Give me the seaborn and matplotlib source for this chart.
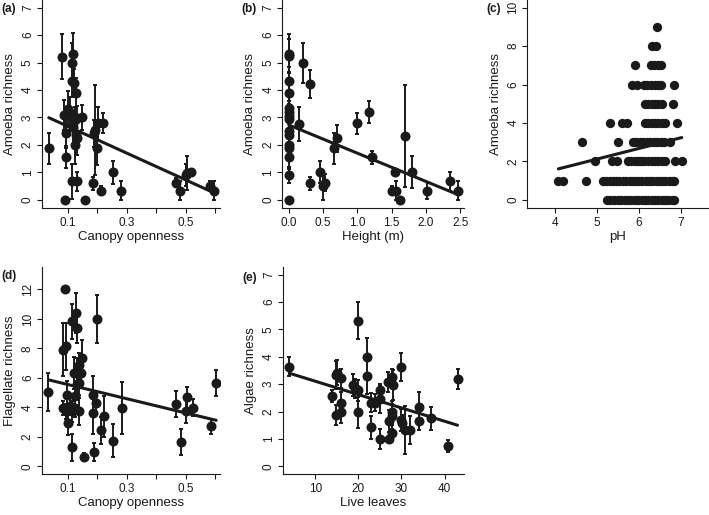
import numpy as np
import pandas as pd
import matplotlib
matplotlib.use("Agg")
import matplotlib.pyplot as plt
import seaborn as sns

# (a) amoeba richness vs canopy openness, site means +- se
canopy_a = [0.036, 0.080, 0.119, 0.116, 0.113, 0.121, 0.127, 0.086, 0.100, 0.107,
            0.125, 0.133, 0.147, 0.094, 0.118, 0.127, 0.131, 0.126, 0.093, 0.113,
            0.133, 0.091, 0.158, 0.186, 0.189, 0.192, 0.199, 0.202, 0.221, 0.213,
            0.252, 0.282, 0.467, 0.479, 0.500, 0.503, 0.518, 0.582, 0.597]
amoeba_a = [1.88, 5.21, 5.33, 5.00, 4.33, 4.25, 3.88, 3.10, 3.30, 3.15,
            2.90, 2.97, 3.00, 2.45, 2.65, 2.36, 2.24, 2.00, 1.56, 0.67,
            0.67, 0.00, 0.00, 0.60, 2.42, 2.55, 1.88, 2.79, 2.81, 0.34,
            1.00, 0.34, 0.63, 0.34, 0.91, 0.97, 1.00, 0.51, 0.34]
amoeba_a_se = [0.57, 0.82, 0.75, 0.70, 0.60, 0.50, 0.55, 0.55, 0.65, 0.60,
               0.50, 0.45, 0.45, 0.55, 0.60, 0.55, 0.60, 0.70, 0.40, 0.65,
               0.35, 0.00, 0.00, 0.25, 0.50, 1.65, 0.60, 0.60, 0.37, 0.15,
               0.42, 0.33, 0.15, 0.33, 0.40, 0.62, 0.10, 0.17, 0.33]
fit_a = (3.17, -4.89)

# (b) amoeba richness vs height
height_b = [0, 0, 0, 0, 0, 0, 0, 0, 0, 0, 0, 0, 0, 0, 0,
            0.155, 0.204, 0.306, 0.306, 0.46, 0.495, 0.53, 0.655, 0.70, 1.00,
            1.17, 1.21, 1.50, 1.55, 1.57, 1.62, 1.70, 1.80, 2.02, 2.35, 2.46]
amoeba_b = [5.33, 5.25, 4.33, 3.88, 3.33, 3.20, 3.05, 2.95, 2.50, 2.36, 2.00, 1.90, 1.56, 0.90, 0.00,
            2.76, 4.99, 4.22, 0.60, 1.00, 0.49, 0.63, 1.88, 2.24, 2.79,
            3.21, 1.55, 0.34, 1.00, 0.34, 0.00, 2.33, 1.00, 0.34, 0.67, 0.34]
amoeba_b_se = [0.72, 0.60, 0.50, 0.45, 0.50, 0.40, 0.45, 0.50, 0.40, 0.50, 0.40, 0.50, 0.45, 0.30, 0.00,
               0.62, 0.72, 0.52, 0.25, 0.40, 0.50, 0.30, 0.57, 0.49, 0.38,
               0.40, 0.24, 0.15, 0.10, 0.33, 0.00, 1.86, 0.58, 0.30, 0.33, 0.33]
fit_b = (2.73, -1.03)

# (c) amoeba richness vs pH, one row of samples per richness value
ph_rich0 = [5.23, 5.32, 5.41, 5.50, 5.58, 5.66, 5.74, 5.82, 5.90, 5.98, 6.06,
            6.14, 6.22, 6.30, 6.38, 6.46, 6.54, 6.62, 6.70, 6.78, 6.84]
ph_rich1 = [4.08, 4.18, 4.74, 5.15, 5.22, 5.30, 5.38, 5.45, 5.53, 5.61, 5.70, 5.78, 5.85,
            5.93, 6.00, 6.08, 6.16, 6.24, 6.31, 6.40, 6.48, 6.55, 6.63, 6.71, 6.78, 6.84]
ph_rich2 = [4.95, 5.35, 5.48, 5.73, 5.81, 5.90, 5.98, 6.05, 6.13, 6.22, 6.30,
            6.38, 6.46, 6.55, 6.63, 6.86, 7.02]
ph_rich3 = [4.64, 5.49, 5.85, 5.93, 6.02, 6.10, 6.18, 6.26, 6.35, 6.43, 6.52, 6.60, 6.73]
ph_rich4 = [5.31, 5.59, 5.71, 6.14, 6.22, 6.30, 6.38, 6.46, 6.55, 6.63, 6.90]
ph_rich5 = [6.14, 6.22, 6.30, 6.38, 6.46, 6.55, 6.82]
ph_rich6 = [5.83, 5.95, 6.12, 6.20, 6.28, 6.37, 6.45, 6.53, 6.84]
ph_rich7 = [5.91, 6.28, 6.36, 6.45, 6.53]
ph_rich8 = [6.31, 6.40]
ph_rich9 = [6.43]
fit_c = (-0.653, 0.555)

# (d) flagellate richness vs canopy openness
canopy_d = [0.035, 0.091, 0.113, 0.127, 0.130, 0.200, 0.085, 0.094, 0.147, 0.121,
            0.130, 0.145, 0.137, 0.139, 0.131, 0.099, 0.126, 0.085, 0.096, 0.107,
            0.116, 0.126, 0.138, 0.102, 0.186, 0.197, 0.186, 0.222, 0.214, 0.113,
            0.156, 0.190, 0.253, 0.284, 0.468, 0.485, 0.504, 0.502, 0.525, 0.586, 0.603]
flag_d = [5.02, 12.04, 9.84, 10.40, 9.39, 10.00, 7.92, 8.14, 7.35, 6.33,
          6.45, 6.33, 6.90, 5.66, 5.59, 4.86, 4.75, 3.96, 3.73, 4.07,
          3.73, 3.96, 3.73, 2.94, 4.86, 4.30, 3.62, 3.39, 2.44, 1.29,
          0.63, 0.97, 1.74, 3.96, 4.23, 1.65, 4.68, 3.73, 3.98, 2.71, 5.66]
flag_d_se = [1.30, 0.00, 1.20, 1.35, 1.00, 1.65, 1.80, 1.60, 1.20, 1.10,
             0.90, 0.60, 0.80, 0.80, 0.70, 0.90, 0.90, 0.50, 0.50, 0.60,
             0.70, 0.60, 0.90, 0.80, 1.25, 0.60, 1.40, 1.40, 0.90, 0.90,
             0.30, 0.60, 1.10, 1.75, 0.90, 0.90, 0.70, 0.80, 0.60, 0.50, 0.90]
fit_d = (6.035, -4.83)

# (e) algae richness vs live leaves
leaves_e = [4.0, 13.9, 14.9, 15.1, 16.0, 14.9, 16.0, 16.0, 18.7, 19.3,
            19.9, 19.9, 19.9, 22.0, 22.0, 22.9, 22.9, 23.9, 24.9, 24.9,
            24.9, 26.8, 27.8, 28.0, 27.8, 27.8, 27.0, 27.0, 27.8, 29.9,
            29.9, 30.2, 30.9, 31.9, 34.0, 34.0, 36.9, 40.9, 43.0]
algae_e = [3.64, 2.57, 3.34, 3.42, 3.22, 1.88, 1.97, 2.33, 2.97, 2.85,
           2.77, 1.97, 5.32, 3.98, 3.30, 2.33, 1.43, 2.33, 2.45, 2.77,
           1.00, 3.09, 3.25, 2.97, 1.97, 1.82, 1.64, 1.00, 1.21, 3.62,
           1.70, 1.58, 1.33, 1.33, 2.16, 1.64, 1.76, 0.76, 3.19]
algae_e_se = [0.35, 0.23, 0.50, 0.45, 0.35, 0.37, 0.38, 0.38, 0.40, 0.35,
              0.40, 0.58, 0.67, 0.70, 0.67, 0.35, 0.42, 0.30, 0.50, 0.25,
              0.38, 0.37, 0.30, 0.55, 0.40, 0.45, 0.40, 0.10, 0.30, 0.52,
              0.40, 0.30, 0.88, 0.52, 0.56, 0.30, 0.42, 0.22, 0.37]
fit_e = (3.595, -0.0487)

ink = "#1a1a1a"
sns.set_style("ticks")
plt.rcParams["font.family"] = ["Liberation Sans", "DejaVu Sans"]
plt.rcParams.update({
    "text.color": ink, "axes.labelcolor": ink, "axes.edgecolor": ink,
    "xtick.color": ink, "ytick.color": ink, "axes.linewidth": 0.8,
    "xtick.major.width": 0.8, "ytick.major.width": 0.8,
    "xtick.major.size": 3.6, "ytick.major.size": 3.6,
    "xtick.labelsize": 8.5, "ytick.labelsize": 8.5, "axes.labelsize": 9.5,
})

fig = plt.figure(figsize=(7.09, 5.15), dpi=100)


def panel(rect, x, y, se, fit, xlim, ylim, xticks, yticks, xlabel, ylabel, tag,
          xticklabels=None, size=52):
    ax = fig.add_axes(rect)
    if se is not None:
        ax.errorbar(x, y, yerr=se, fmt="none", ecolor=ink, elinewidth=1.4,
                    capsize=1.7, capthick=1.4, zorder=2)
    sns.scatterplot(x=x, y=y, ax=ax, color=ink, s=size, linewidth=0, zorder=3)
    xs = np.array([min(x), max(x)])
    line = pd.DataFrame({"x": xs, "y": fit[0] + fit[1] * xs})
    sns.lineplot(data=line, x="x", y="y", ax=ax, color=ink, linewidth=2.2, zorder=4)
    ax.set_xlim(xlim)
    ax.set_ylim(ylim)
    ax.set_xticks(xticks)
    if xticklabels is not None:
        ax.set_xticklabels(xticklabels)
    ax.set_yticks(yticks)
    ax.tick_params(axis="y", labelrotation=90, pad=2)
    ax.tick_params(axis="x", pad=3)
    for lab in ax.get_yticklabels():
        lab.set_va("center")
    sns.despine(ax=ax)
    w_px = rect[2] * 709
    h_px = rect[3] * 515
    ax.set_xlabel(xlabel, va="center")
    ax.set_ylabel(ylabel, va="center")
    ax.xaxis.set_label_coords(0.5, -29 / h_px)
    ax.yaxis.set_label_coords(-31.5 / w_px, 0.5)
    ax.text(tag[1] / 709, 1 - tag[2] / 515, tag[0], transform=fig.transFigure,
            fontsize=8.5, fontweight="bold", ha="left", va="center")
    return ax


canopy_ticks = [0.1, 0.2, 0.3, 0.4, 0.5, 0.6]
canopy_labels = ["0.1", "", "0.3", "", "0.5", ""]

panel([0.0588, 0.597, 0.2515, 0.403], canopy_a, amoeba_a, amoeba_a_se, fit_a,
      (0.012, 0.616), (-0.28, 7.28), canopy_ticks, range(0, 8),
      "Canopy openness", "Amoeba richness", ("(a)", 1, 9), canopy_labels)

panel([0.3977, 0.597, 0.2574, 0.403], height_b, amoeba_b, amoeba_b_se, fit_b,
      (-0.098, 2.56), (-0.28, 7.28), [0, 0.5, 1.0, 1.5, 2.0, 2.5], range(0, 8),
      "Height (m)", "Amoeba richness", ("(b)", 241, 9),
      ["0.0", "0.5", "1.0", "1.5", "2.0", "2.5"])

ph_rows = [ph_rich0, ph_rich1, ph_rich2, ph_rich3, ph_rich4,
           ph_rich5, ph_rich6, ph_rich7, ph_rich8, ph_rich9]
ph_x = [v for row in ph_rows for v in row]
ph_y = [k for k, row in enumerate(ph_rows) for _ in row]
panel([0.7437, 0.597, 0.2559, 0.403], ph_x, ph_y, None, fit_c,
      (3.34, 7.66), (-0.4, 10.4), [4, 5, 6, 7], range(0, 11, 2),
      "pH", "Amoeba richness", ("(c)", 486, 9), size=45)

panel([0.0588, 0.0796, 0.2515, 0.402], canopy_d, flag_d, flag_d_se, fit_d,
      (0.012, 0.616), (-0.52, 13.52), canopy_ticks, range(0, 13, 2),
      "Canopy openness", "Flagellate richness", ("(d)", 1, 276), canopy_labels)

panel([0.3987, 0.0796, 0.2561, 0.402], leaves_e, algae_e, algae_e_se, fit_e,
      (2.44, 44.56), (-0.28, 7.28), [10, 20, 30, 40], range(0, 8),
      "Live leaves", "Algae richness", ("(e)", 242, 278))

fig.savefig("out.png", dpi=100)
